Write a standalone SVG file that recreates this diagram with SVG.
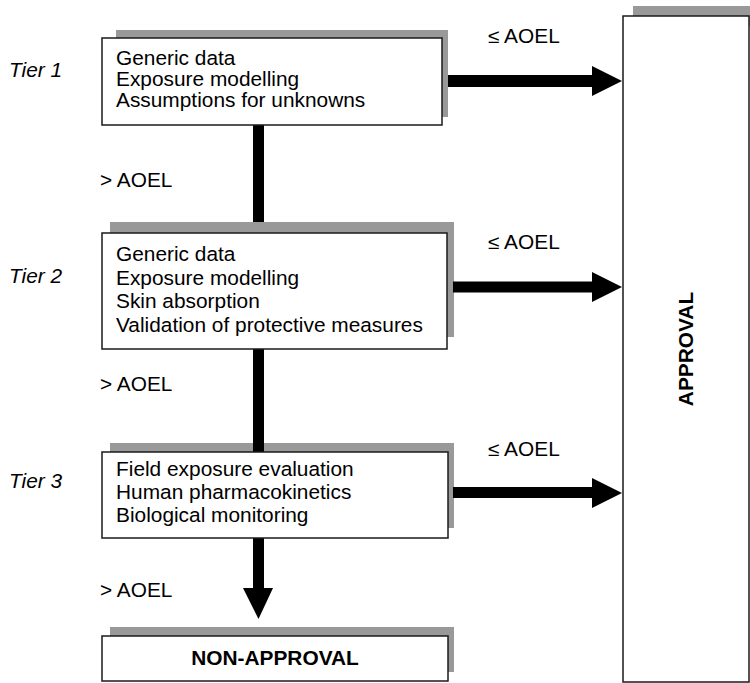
<svg xmlns="http://www.w3.org/2000/svg" width="750" height="683" viewBox="0 0 750 683">
<style>
.sh{fill:#999999}
.bx{fill:#ffffff;stroke:#1a1a1a;stroke-width:1.5}
.t{font-family:"Liberation Sans",Arial,Helvetica,sans-serif;font-size:19.5px;fill:#000}
.it{font-style:italic}
.b{font-weight:bold}
.cn{fill:#000}
</style>
<rect width="750" height="683" fill="#ffffff"/>
<g id="tier-labels">
<text class="t it" transform="translate(9 77) scale(1.07 1)">Tier 1</text>
<text class="t it" transform="translate(9 283) scale(1.07 1)">Tier 2</text>
<text class="t it" transform="translate(9 488) scale(1.07 1)">Tier 3</text>
</g>
<g id="shadows">
<rect class="sh" x="116" y="30" width="332" height="87"/>
<rect class="sh" x="110" y="222" width="344" height="115"/>
<rect class="sh" x="110" y="443" width="344" height="85"/>
<rect class="sh" x="110" y="627" width="344" height="45"/>
<rect class="sh" x="633" y="6" width="117" height="20"/>
</g>
<g id="connectors">
<rect class="cn" x="448" y="75" width="145" height="12"/>
<polygon class="cn" points="592,66 622,81 592,96"/>
<rect class="cn" x="453" y="281.5" width="140" height="11"/>
<polygon class="cn" points="592,272 622,287 592,302"/>
<rect class="cn" x="453" y="487" width="140" height="11"/>
<polygon class="cn" points="592,478 622,493 592,508"/>
<rect class="cn" x="253" y="125" width="11" height="97"/>
<rect class="cn" x="253" y="349" width="11" height="103"/>
<rect class="cn" x="253" y="538" width="11" height="51"/>
<polygon class="cn" points="243,588 273,588 258.5,619"/>
<text class="t" transform="translate(488 43) scale(1.07 1)">≤ AOEL</text>
<text class="t" transform="translate(488 249) scale(1.07 1)">≤ AOEL</text>
<text class="t" transform="translate(488 456) scale(1.07 1)">≤ AOEL</text>
<text class="t" transform="translate(100 187) scale(1.07 1)">&gt; AOEL</text>
<text class="t" transform="translate(100 391) scale(1.07 1)">&gt; AOEL</text>
<text class="t" transform="translate(100 597) scale(1.07 1)">&gt; AOEL</text>
</g>
<g id="tier1">
<rect class="bx" x="102" y="38" width="340" height="87"/>
<text class="t" transform="translate(116 65) scale(1.07 1)">Generic data</text>
<text class="t" transform="translate(116 86) scale(1.07 1)">Exposure modelling</text>
<text class="t" transform="translate(116 106.5) scale(1.07 1)">Assumptions for unknowns</text>
</g>
<g id="tier2">
<rect class="bx" x="102" y="233" width="345" height="116"/>
<text class="t" transform="translate(116 261) scale(1.07 1)">Generic data</text>
<text class="t" transform="translate(116 284.5) scale(1.07 1)">Exposure modelling</text>
<text class="t" transform="translate(116 308) scale(1.07 1)">Skin absorption</text>
<text class="t" transform="translate(116 331.5) scale(1.07 1)">Validation of protective measures</text>
</g>
<g id="tier3">
<rect class="bx" x="102" y="452" width="346" height="86"/>
<text class="t" transform="translate(116 476) scale(1.07 1)">Field exposure evaluation</text>
<text class="t" transform="translate(116 499) scale(1.07 1)">Human pharmacokinetics</text>
<text class="t" transform="translate(116 522) scale(1.07 1)">Biological monitoring</text>
</g>
<g id="non-approval">
<rect class="bx" x="102" y="636" width="346" height="45"/>
<text class="t b" text-anchor="middle" transform="translate(275 665) scale(1.07 1)">NON-APPROVAL</text>
</g>
<g id="approval">
<rect class="bx" x="623" y="16" width="126" height="666"/>
<text class="t b" text-anchor="middle" transform="translate(693 349) rotate(-90) scale(1.07 1)">APPROVAL</text>
</g>
</svg>
